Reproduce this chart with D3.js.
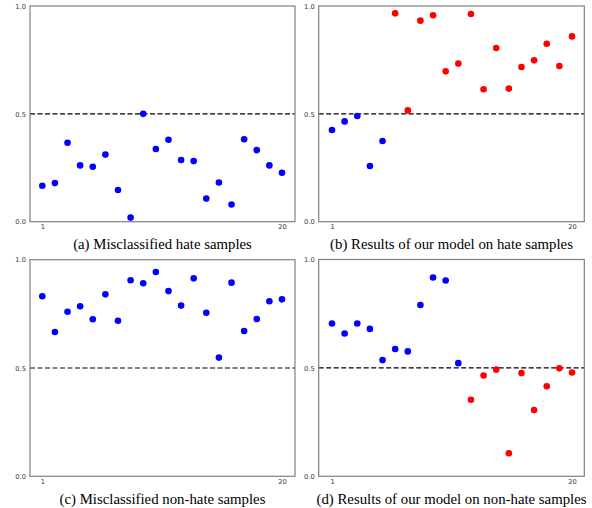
<!DOCTYPE html>
<html><head><meta charset="utf-8">
<script src="https://cdn.jsdelivr.net/npm/d3@7"></script>
<style>body{margin:0;background:#fff}svg{display:block}</style>
</head><body>
<script>
const sampleIds = d3.range(1, 21);
const xTickLabels = [1, 20];
const yTickLabels = [0.0, 0.5, 1.0];
const threshold = 0.5;

const hateMisclassified = [0.167,0.179,0.366,0.261,0.255,0.311,0.147,0.019,0.500,0.337,0.380,0.286,0.281,0.107,0.182,0.080,0.382,0.332,0.261,0.227];
const hateOurModel = [0.425,0.465,0.490,0.258,0.374,0.966,0.516,0.932,0.957,0.697,0.733,0.963,0.614,0.805,0.617,0.717,0.748,0.825,0.722,0.859];
const nonHateMisclassified = [0.831,0.666,0.760,0.785,0.725,0.840,0.718,0.905,0.891,0.943,0.855,0.788,0.914,0.755,0.548,0.894,0.671,0.726,0.808,0.817];
const nonHateOurModel = [0.705,0.659,0.705,0.680,0.536,0.587,0.576,0.790,0.917,0.903,0.522,0.353,0.465,0.492,0.106,0.476,0.306,0.415,0.498,0.479];

// colour flags: "b" blue, "r" red
const hateMisColors = Array(20).fill("b");
const hateOurColors = ["b","b","b","b","b","r","r","r","r","r","r","r","r","r","r","r","r","r","r","r"];
const nonHateMisColors = Array(20).fill("b");
const nonHateOurColors = ["b","b","b","b","b","b","b","b","b","b","b","r","r","r","r","r","r","r","r","r"];

const captions = [
  "(a) Misclassified hate samples",
  "(b) Results of our model on hate samples",
  "(c) Misclassified non-hate samples",
  "(d) Results of our model on non-hate samples"
];

const panels = [
  {values: hateMisclassified, colors: hateMisColors, caption: captions[0], box: [30, 6, 295, 221.7], x1: 42.3, x20: 282},
  {values: hateOurModel, colors: hateOurColors, caption: captions[1], box: [318.7, 6, 584.3, 221.7], x1: 332, x20: 572},
  {values: nonHateMisclassified, colors: nonHateMisColors, caption: captions[2], box: [30, 259.7, 295, 476.3], x1: 42.3, x20: 282},
  {values: nonHateOurModel, colors: nonHateOurColors, caption: captions[3], box: [318.7, 259.5, 584.3, 476.3], x1: 332, x20: 572}
];

const colorMap = {b: "#0000ff", r: "#ff0000"};

const svg = d3.select("body").append("svg").attr("width", 592).attr("height", 508);

panels.forEach(p => {
  const [l, t, r, b] = p.box;
  const g = svg.append("g");
  const x = d3.scaleLinear().domain([1, 20]).range([p.x1, p.x20]);
  const y = d3.scaleLinear().domain([0, 1]).range([b, t]);

  // threshold line
  g.append("line")
    .attr("x1", l).attr("x2", r)
    .attr("y1", y(threshold)).attr("y2", y(threshold))
    .attr("stroke", "#000").attr("stroke-width", 1.1)
    .attr("stroke-dasharray", "5,2.5");

  // points
  g.selectAll("circle").data(p.values).enter().append("circle")
    .attr("cx", (d, i) => x(sampleIds[i]))
    .attr("cy", d => y(d))
    .attr("r", 3.3)
    .attr("fill", (d, i) => colorMap[p.colors[i]]);

  // frame
  g.append("rect")
    .attr("x", l).attr("y", t).attr("width", r - l).attr("height", b - t)
    .attr("fill", "none").attr("stroke", "#808080").attr("stroke-width", 1.2);

  // y axis
  const yAxis = d3.axisLeft(y).tickValues(yTickLabels).tickFormat(d3.format(".1f")).tickSize(0).tickPadding(4);
  const ya = g.append("g").attr("transform", `translate(${l},0)`).call(yAxis);
  ya.select(".domain").remove();
  ya.selectAll("text").attr("font-family", "DejaVu Sans").attr("font-size", 6.7).attr("fill", "#333");

  // x axis
  const xAxis = d3.axisBottom(x).tickValues(xTickLabels).tickSize(0).tickPadding(3);
  const xa = g.append("g").attr("transform", `translate(0,${b})`).call(xAxis);
  xa.select(".domain").remove();
  xa.selectAll("text").attr("font-family", "DejaVu Sans").attr("font-size", 6.7).attr("fill", "#333");

  // caption
  g.append("text")
    .attr("x", (l + r) / 2).attr("y", b + 27.5)
    .attr("text-anchor", "middle")
    .attr("font-family", "Liberation Serif")
    .attr("font-size", 14.8)
    .attr("fill", "#000")
    .text(p.caption);
});
</script>
</body></html>
